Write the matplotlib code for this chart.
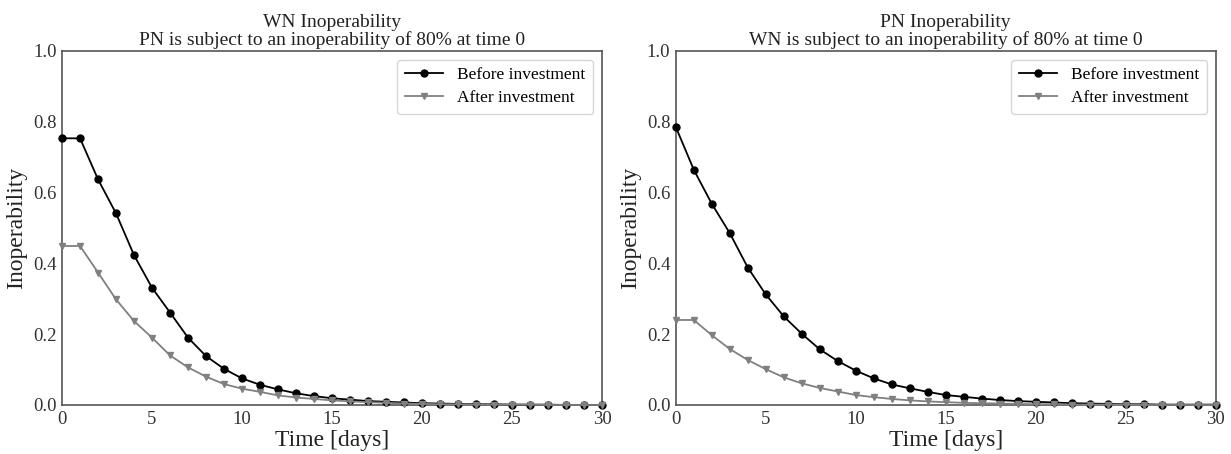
import matplotlib
matplotlib.use("Agg")
import matplotlib.pyplot as plt
import numpy as np

days = np.arange(0, 31)

# WN inoperability (PN disrupted at time 0)
wn_before = [0.753, 0.753, 0.637, 0.541, 0.423, 0.331, 0.261, 0.190, 0.138, 0.102,
             0.075, 0.057, 0.044, 0.033, 0.025, 0.019, 0.015, 0.011, 0.009, 0.007,
             0.005, 0.004, 0.003, 0.002, 0.002, 0.001, 0.001, 0.001, 0.0, 0.0, 0.0]
wn_after = [0.449, 0.449, 0.374, 0.298, 0.237, 0.190, 0.140, 0.106, 0.080, 0.059,
            0.046, 0.037, 0.027, 0.021, 0.017, 0.013, 0.010, 0.008, 0.006, 0.004,
            0.003, 0.002, 0.002, 0.001, 0.001, 0.001, 0.001, 0.0, 0.0, 0.0, 0.0]

# PN inoperability (WN disrupted at time 0)
pn_before = [0.785, 0.664, 0.568, 0.485, 0.388, 0.312, 0.250, 0.201, 0.157, 0.124,
             0.097, 0.075, 0.058, 0.047, 0.037, 0.028, 0.023, 0.018, 0.014, 0.011,
             0.009, 0.007, 0.005, 0.004, 0.003, 0.002, 0.002, 0.001, 0.001, 0.001, 0.001]
pn_after = [0.240, 0.240, 0.197, 0.158, 0.127, 0.101, 0.078, 0.061, 0.048, 0.038,
            0.028, 0.022, 0.017, 0.013, 0.010, 0.008, 0.006, 0.005, 0.004, 0.003,
            0.002, 0.002, 0.001, 0.001, 0.001, 0.001, 0.0, 0.0, 0.0, 0.0, 0.0]

titles = ["WN Inoperability\nPN is subject to an inoperability of 80% at time 0",
          "PN Inoperability\nWN is subject to an inoperability of 80% at time 0"]

plt.rcParams['font.family'] = ['Liberation Serif', 'DejaVu Serif']

fig = plt.figure(figsize=(12.31, 4.54), dpi=100)
ax1 = fig.add_axes([0.0504, 0.108, 0.4386, 0.780])
ax2 = fig.add_axes([0.549, 0.108, 0.4386, 0.780])

for ax, before, after, title in [(ax1, wn_before, wn_after, titles[0]),
                                 (ax2, pn_before, pn_after, titles[1])]:
    ax.plot(days, before, marker='o', markersize=5, color='black', linewidth=1.3,
            label='Before investment', clip_on=False, zorder=3)
    ax.plot(days, after, marker='v', markersize=5, color='gray', linewidth=1.3,
            label='After investment', clip_on=False, zorder=3)
    ax.set_xlim(0, 30)
    ax.set_ylim(0, 1.0)
    ax.set_xticks([0, 5, 10, 15, 20, 25, 30])
    ax.set_yticks([0.0, 0.2, 0.4, 0.6, 0.8, 1.0])
    ax.tick_params(length=0, labelsize=13.5, colors='#333333', pad=4)
    ax.set_xlabel('Time [days]', fontsize=17, color='#222222', labelpad=2)
    ax.set_ylabel('Inoperability', fontsize=17, color='#222222', labelpad=4)
    ax.set_title(title, fontsize=14, color='#222222', pad=4, linespacing=1.0)
    for s in ax.spines.values():
        s.set_color('#555555')
        s.set_linewidth(1.2)
    leg = ax.legend(loc='upper right', fontsize=12.5, frameon=True, fancybox=True,
                    handlelength=2.2, borderpad=0.45, labelspacing=0.35)
    leg.get_frame().set_edgecolor('#cccccc')

plt.savefig('out.png', dpi=100)
